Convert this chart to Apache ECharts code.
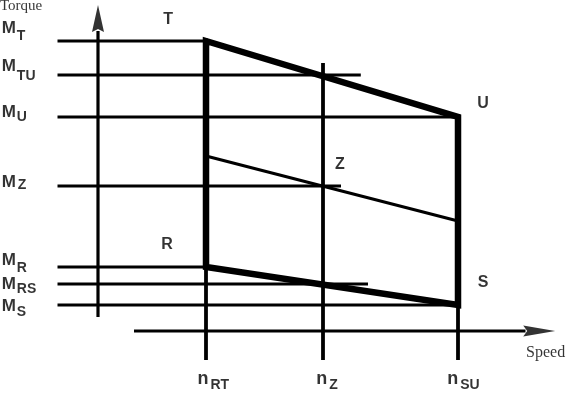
<!DOCTYPE html>
<html><head><meta charset="utf-8">
<script src="https://cdn.jsdelivr.net/npm/echarts@6/dist/echarts.min.js"></script>
<style>html,body{margin:0;padding:0;background:#fff}#c{width:566px;height:393px}</style>
</head><body><div id="c"></div>
<script>
// ---- data (torque levels M_x, speed levels n_x) ----
const torqueNames  = ['T', 'TU', 'U', 'Z', 'R', 'RS', 'S'];
const torqueValues = [145, 128, 107, 72.5, 32, 23.5, 13];
const speedNames   = ['RT', 'Z', 'SU'];
const speedValues  = [1200, 2500, 4000];
const zLineValues  = [87.5, 55];          // torque of line through Z at n_RT and n_SU
const cornerNames  = ['T', 'U', 'S', 'R', 'Z'];
const axisNames    = ['Torque', 'Speed'];

// ---- layout (positions in axis units, not data) ----
const refStart = -450;
const refEnd = [speedValues[0], 2920, speedValues[2], 2700, speedValues[0], 3000, speedValues[2]];
const vertBottom = -14.5;
const vertTop = [torqueValues[0], 134, torqueValues[2]];
const mLabelPos = [[-1070,151.5],[-1070,132.25],[-1070,109.5],[-1070,74.5],[-1070,35.5],[-1070,23.5],[-1070,12.25]];
const mSubStyle = ['a','a2','b','c','a','b','b'];
const cornerPos = [[778,155.5],[4278,113.5],[4278,24],[767,43],[2689,83]];
const nLabelPos = [[1105,-24],[2425,-24],[3880,-24]];

const SANS = '"Liberation Sans", Arial, Helvetica, sans-serif';
const SERIF = '"Liberation Serif", "Times New Roman", serif';
const K = '#000';

function seg(pts, w, z) {
  return {type:'line', data:pts, symbol:'none', silent:true, animation:false, clip:false,
    lineStyle:{color:K, width:w, cap:'butt', join:'miter'}, z:z||2};
}
function lbl(pos, fmt, rich, align, extra) {
  return {type:'scatter', data:[pos], symbol:'circle', symbolSize:0, silent:true, animation:false, clip:false, z:5,
    itemStyle:{color:'transparent'},
    label:Object.assign({show:true, position:'inside', formatter:fmt, align:align||'left', verticalAlign:'middle', color:K, rich:rich||{}}, extra||{})};
}

const series = [];
// reference torque lines
torqueValues.forEach((t,i) => series.push(seg([[refStart,t],[refEnd[i],t]], 3.2)));
// speed verticals
speedValues.forEach((s,i) => series.push(seg([[s,vertBottom],[s,vertTop[i]]], 3.8)));
// line through Z
series.push(seg([[speedValues[0], zLineValues[0]],[speedValues[2], zLineValues[1]]], 3));
// operating region T-U-S-R
const T=[speedValues[0],torqueValues[0]], U=[speedValues[2],torqueValues[2]],
      S=[speedValues[2],torqueValues[6]], R=[speedValues[0],torqueValues[4]];
series.push(seg([T,U,S,R,T,U], 6.5, 3));
// axes
series.push(seg([[0,7],[0,150]], 3.2));
series.push(seg([[400,0],[4750,0]], 3.2));
series.push({type:'scatter', silent:true, animation:false, clip:false, z:4, data:[[0,163]],
  symbol:'path://M6,0 L12,27 L6,24 L0,27 Z', symbolSize:[12,27], symbolOffset:[0,13.5], itemStyle:{color:K}});
series.push({type:'scatter', silent:true, animation:false, clip:false, z:4, data:[[5080,0]],
  symbol:'path://M0,0 L32,5.5 L0,11 L4,5.5 Z', symbolSize:[32,11], symbolOffset:[-16,0], itemStyle:{color:K}});

// M labels
const sub = (pad) => ({fontFamily:SANS, fontWeight:'bold', fontSize:14, color:K, padding:pad});
const mRich = {
  m:{fontFamily:SANS, fontWeight:'bold', fontSize:17, color:K},
  a:sub([16,0,0,1]), a2:sub([19,0,0,1]), b:sub([11,0,0,1]), c:sub([6,0,0,2])
};
torqueNames.forEach((n,i) => series.push(lbl(mLabelPos[i], '{m|M}{' + mSubStyle[i] + '|' + n + '}', mRich)));
// n labels
const nRich = {
  n:{fontFamily:SANS, fontWeight:'bold', fontSize:18, color:K},
  r:{fontFamily:SANS, fontWeight:'bold', fontSize:14, color:K, padding:[12,0,0,2]}
};
speedNames.forEach((n,i) => series.push(lbl(nLabelPos[i], '{n|n}{r|' + n + '}', nRich)));
// corner letters
cornerNames.forEach((n,i) => series.push(lbl(cornerPos[i], n, null, 'center',
  {fontFamily:SANS, fontWeight:'bold', fontSize:16})));
// axis names
series.push(lbl([-1089,162.5], axisNames[0], null, 'left', {fontFamily:SERIF, fontSize:15}));
series.push(lbl([4756,-11], axisNames[1], null, 'left', {fontFamily:SERIF, fontSize:16}));

const chart = echarts.init(document.getElementById('c'), null, {renderer:'canvas'});
chart.setOption({
  backgroundColor:'#fff',
  animation:false,
  grid:{left:8, width:540, top:1, height:390, containLabel:false},
  xAxis:{type:'value', min:-1000, max:5000, show:false},
  yAxis:{type:'value', min:-30, max:165, show:false},
  series:series
});
</script></body></html>
